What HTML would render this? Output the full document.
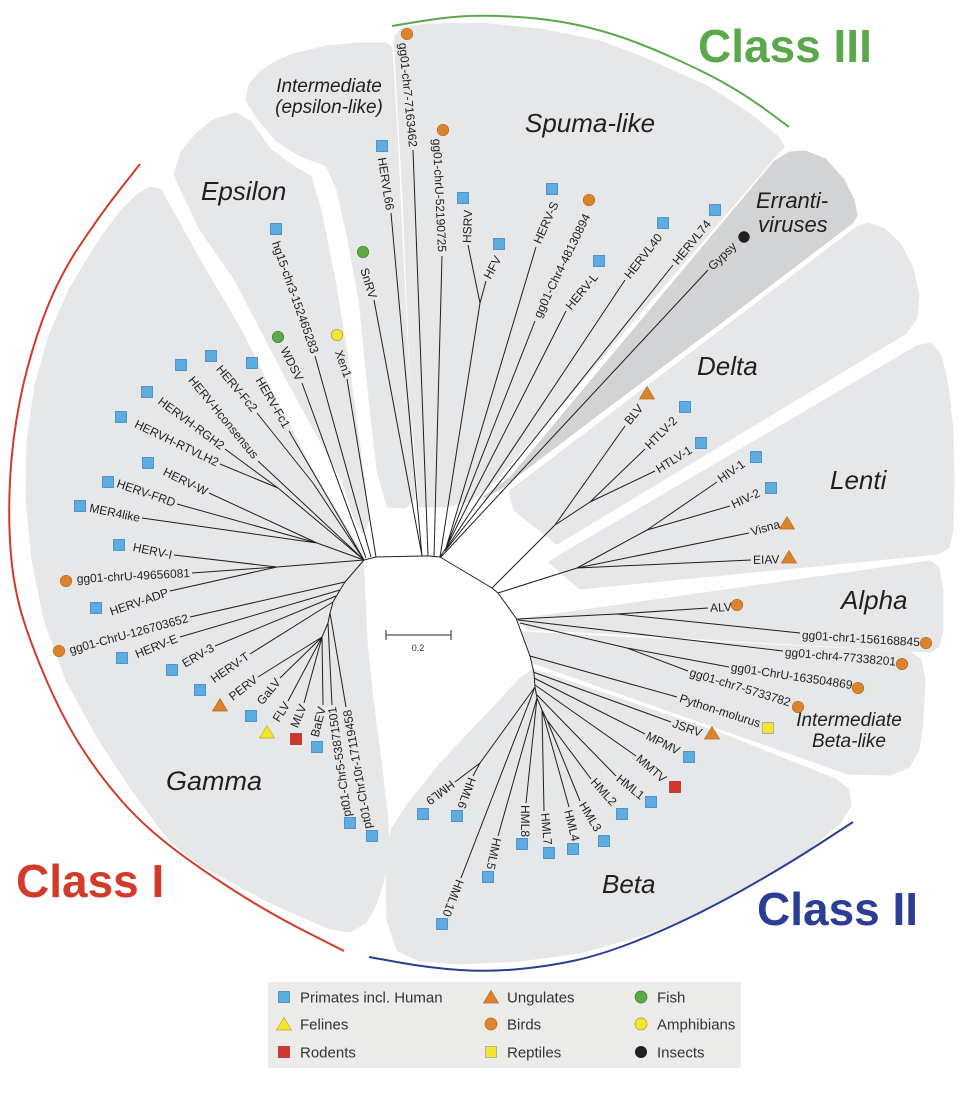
<!DOCTYPE html>
<html>
<head>
<meta charset="utf-8">
<style>
html,body{margin:0;padding:0;background:#fff;}
svg{display:block;}
.l{font-family:"Liberation Sans",sans-serif;font-size:12px;fill:#231f20;}
.c{font-family:"Liberation Sans",sans-serif;font-style:italic;fill:#231f20;}
.k{font-family:"Liberation Sans",sans-serif;font-weight:bold;font-size:46px;}
.g{font-family:"Liberation Sans",sans-serif;font-size:15px;fill:#333;}
.bs{fill:#5dade2;stroke:#3f86bf;stroke-width:0.8;}
.oc{fill:#dc842c;stroke:#b56a1e;stroke-width:0.7;}
.ot{fill:#dc842c;stroke:#b56a1e;stroke-width:0.7;}
.gc{fill:#5fa846;stroke:#3f7f2e;stroke-width:0.7;}
.yc{fill:#f3e531;stroke:#a89c1a;stroke-width:0.7;}
.yt{fill:#f5e62c;stroke:#b8a920;stroke-width:0.7;}
.rs{fill:#d2352b;stroke:#a3261e;stroke-width:0.7;}
.ys{fill:#f3e531;stroke:#999;stroke-width:0.7;}
.kc{fill:#231f20;}
</style>
</head>
<body>
<svg width="960" height="1105" viewBox="0 0 960 1105" xmlns="http://www.w3.org/2000/svg">
<!-- clade backgrounds -->
<g fill="#e6e7e8" stroke="#e6e7e8" stroke-width="3" stroke-linejoin="round">
<path d="M150,188 L160,190 L200,262 L240,330 L275,400 L317,480 L350,535 L362,555 L363,575 L366,640 L372,700 L380,760 L387,820 L388,845 L383,880 L375,905 L365,922 L350,931 L330,928 L300,915 L267,900 L230,880 L200,864 L170,840 L133,790 L100,740 L67,680 L45,620 L33,560 L27,500 L28,440 L36,385 L50,335 L70,290 L95,248 L120,213 L138,195 Z"/>
<path d="M175,175 L182,152 L198,133 L215,120 L235,114 L250,122 L270,150 L290,165 L310,177 L320,210 L335,285 L350,380 L362,470 L368,520 L363,532 L356,520 L343,480 L315,430 L288,380 L236,280 L200,228 Z"/>
<path d="M247,100 L250,85 L260,73 L275,63 L293,55 L327,47 L360,44 L386,44 L391,48 L397,150 L404,300 L414,498 L405,507 L388,506 L378,470 L370,400 L360,300 L348,235 L338,190 L327,165 L300,155 L277,140 L258,118 Z"/>
<path d="M395,38 L402,29 L420,26 L440,25 L480,24 L540,30 L600,42 L640,57 L707,87 L750,115 L778,138 L783,146 L700,243 L633,320 L580,382 L530,440 L495,480 L470,500 L445,506 L420,506 L412,400 L404,200 Z"/>
<path d="M510,492 L728,326 L857,228 L868,224 L885,230 L900,245 L912,268 L918,295 L916,318 L905,333 L557,543 L515,510 Z"/>
<path d="M550,562 L917,347 L930,344 L940,355 L947,385 L952,430 L953,480 L952,530 L948,547 L938,553 L580,588 Z"/>
<path d="M520,620 L930,562 L938,568 L942,590 L942,630 L938,646 L930,651 L528,628 Z"/>
<path d="M523,633 L910,653 L920,660 L924,680 L922,720 L918,750 L908,767 L890,774 L848,773 L533,662 Z"/>
<path d="M533,670 L720,734 L835,780 L848,790 L850,805 L840,822 L800,855 L750,885 L700,912 L640,935 L580,952 L520,960 L460,963 L420,960 L398,950 L388,920 L387,870 L392,830 L408,805 L440,765 L490,712 L520,680 Z"/>
</g>
<path d="M775,162 L790,153 L805,152 L825,160 L843,180 L853,200 L856,215 L852,222 L723,320 L600,412 L500,488 L485,497 L511,478 L576,400 L643,320 Z" fill="#d1d3d4" stroke="#d1d3d4" stroke-width="3" stroke-linejoin="round"/>

<!-- class arcs -->
<path d="M140 164 L120 189.5 Q100 215 78.5 247.5 Q57 280 42.5 320 Q28 360 20 400 Q12 440 10 480 Q8 520 11 555 Q14 590 23.5 620 Q33 650 49 686 Q65 722 82.5 749 Q100 776 120 799 Q140 822 165 842 Q190 862 228.5 887 Q267 912 305.5 931.5 L344 951" fill="none" stroke="#d23a2a" stroke-width="2"/>
<path d="M369 957 L399.5 962.5 Q430 968 460 970 Q490 972 520 969 Q550 966 575 960.5 Q600 955 630 943.5 Q660 932 690 917.5 Q720 903 755 883 Q790 863 821.5 842.5 L853 822" fill="none" stroke="#2c3d95" stroke-width="2"/>
<path d="M392 26 L416 22 Q440 18 460 16.5 Q480 15 510 16.5 Q540 18 565 22.5 Q590 27 615 35 Q640 43 673.5 58 Q707 73 728.5 85.5 Q750 98 769.5 112.5 L789 127" fill="none" stroke="#5ba84a" stroke-width="2"/>

<!-- tree -->
<path fill="none" stroke="#231f20" stroke-width="1" stroke-linejoin="round" d="
M364 560 L376 557 L423 556 L429 556 L440 557 L492 588 L498 593 L516 618 L530 656 L534 673 L535 687 L537 698 L542 710 L547 720
M364 560 L345 582 L340 590 L333 602 L330 613 L328 623 L322 637
M289 431 L364 560
M257 413 L313 483 L364 560
M258 461 L364 560
M225 449 L278 488 L364 560
M220 464 L278 488
M209 493 L317 543 L364 560
M177 504 L317 543
M142 518 L317 543
M174 555 L277 567 L364 560
M192 573 L277 567
M170 591 L277 567
M190 617 L345 582
M180 637 L340 590
M215 646 L336 596
M250 654 L333 602
M258 677 L322 637
M280 678 L322 637
M288 701 L322 637
M304 703 L322 637
M323 705 L322 637
M332 705 L328 623
M346 707 L330 613
M302 383 L366 558
M315 356 L371 557
M347 379 L376 557
M374 300 L422 556
M391 213 L422 556
M413 150 L428 556
M442 256 L434 556
M468 245 L480 303 L440 557
M486 281 L480 303
M536 247 L446 548 L440 557
M535 321 L446 548
M566 311 L446 548
M625 280 L446 549
M673 265 L445 551
M708 270 L441 557
M492 588 L555 525 L625 426
M555 525 L590 502 L645 449
M590 502 L655 471
M498 593 L577 568 L647 530 L717 482
M647 530 L730 506
M577 568 L749 533
M577 568 L751 560
M517 619 L617 614 L708 608
M617 614 L800 633
M518 620 L783 651
M520 623 L627 648 L729 667
M627 648 L688 671
M530 656 L677 697
M533 672 L671 722
M534 678 L645 734
M535 685 L636 756
M537 695 L616 776
M547 720 L591 779
M547 720 L580 801
M542 710 L569 807
M542 710 L544 811
M537 698 L526 803
M537 698 L498 836
M535 687 L461 878
M535 687 L480 763 L473 776
M480 763 L455 782
"/>

<!-- scale bar -->
<path d="M386 635 L451 635 M386 630 L386 640 M451 630 L451 640" stroke="#555" stroke-width="1.3" fill="none"/>
<text x="418" y="651" text-anchor="middle" style="font-family:'Liberation Sans',sans-serif;font-size:9px;fill:#333">0.2</text>

<!-- left-half labels (anchor end) -->
<g class="l" text-anchor="end">
<text y="4" transform="translate(287 427) rotate(60)">HERV-Fc1</text>
<text y="4" transform="translate(255 410) rotate(50)">HERV-Fc2</text>
<text y="4" transform="translate(256 457) rotate(50.5)">HERV-Hconsensus</text>
<text y="4" transform="translate(223 447) rotate(36.6)">HERVH-RGH2</text>
<text y="4" transform="translate(218 463) rotate(25.7)">HERVH-RTVLH2</text>
<text y="4" transform="translate(207 492) rotate(26)">HERV-W</text>
<text y="4" transform="translate(175 503) rotate(19)">HERV-FRD</text>
<text y="4" transform="translate(140 518) rotate(11.5)">MER4like</text>
<text y="4" transform="translate(172 555) rotate(11.6)">HERV-I</text>
<text y="4" transform="translate(190 573) rotate(-3)">gg01-chrU-49656081</text>
<text y="4" transform="translate(168 592) rotate(-19)">HERV-ADP</text>
<text y="4" transform="translate(188 618) rotate(-15.2)">gg01-ChrU-126703652</text>
<text y="4" transform="translate(177 638) rotate(-22)">HERV-E</text>
<text y="4" transform="translate(213 647) rotate(-30)">ERV-3</text>
<text y="4" transform="translate(248 655) rotate(-35)">HERV-T</text>
<text y="4" transform="translate(256 678) rotate(-38)">PERV</text>
<text y="4" transform="translate(278 680) rotate(-51)">GaLV</text>
<text y="4" transform="translate(287 703) rotate(-57)">FLV</text>
<text y="4" transform="translate(303 705) rotate(-68)">MLV</text>
<text y="4" transform="translate(322 707) rotate(-76)">BaEV</text>
<text y="4" transform="translate(332 707) rotate(-98)">pt01-Chr5-53871501</text>
<text y="4" transform="translate(347 710) rotate(-100)">pt01-Chr10r-17119458</text>
<text y="4" transform="translate(300 380) rotate(63)">WDSV</text>
<text y="4" transform="translate(315 353) rotate(70.5)">hg15-chr3-152465283</text>
<text y="4" transform="translate(348 377) rotate(70)">Xen1</text>
<text y="4" transform="translate(373 298) rotate(73)">SnRV</text>
<text y="4" transform="translate(390 210) rotate(81)">HERVL66</text>
<text y="4" transform="translate(413 147) rotate(84.5)">gg01-chr7-7163462</text>
<text y="4" transform="translate(442 252) rotate(87.4)">gg01-chrU-52190725</text>
</g>

<!-- right-half labels (anchor start) -->
<g class="l">
<text y="4" transform="translate(467 243) rotate(-88)">HSRV</text>
<text y="4" transform="translate(487 278) rotate(-62)">HFV</text>
<text y="4" transform="translate(537 243) rotate(-66)">HERV-S</text>
<text y="4" transform="translate(537 317) rotate(-64)">gg01-Chr4-48130894</text>
<text y="4" transform="translate(568 308) rotate(-50)">HERV-L</text>
<text y="4" transform="translate(627 277) rotate(-52)">HERVL40</text>
<text y="4" transform="translate(675 263) rotate(-51)">HERVL74</text>
<text y="4" transform="translate(710 268) rotate(-44)">Gypsy</text>
<text y="4" transform="translate(627 423) rotate(-51)">BLV</text>
<text y="4" transform="translate(647 447) rotate(-45)">HTLV-2</text>
<text y="4" transform="translate(657 470) rotate(-32)">HTLV-1</text>
<text y="4" transform="translate(719 480) rotate(-35)">HIV-1</text>
<text y="4" transform="translate(732 505) rotate(-25)">HIV-2</text>
<text y="4" transform="translate(751 532) rotate(-16)">Visna</text>
<text y="4" transform="translate(753 560) rotate(-1.5)">EIAV</text>
<text y="4" transform="translate(710 608) rotate(-3)">ALV</text>
<text y="4" transform="translate(802 635) rotate(3.5)">gg01-chr1-156168845</text>
<text y="4" transform="translate(785 652) rotate(5)">gg01-chr4-77338201</text>
<text y="4" transform="translate(731 667) rotate(8.5)">gg01-ChrU-163504869</text>
<text y="4" transform="translate(690 672) rotate(17)">gg01-chr7-5733782</text>
<text y="4" transform="translate(680 698) rotate(17.8)">Python-molurus</text>
<text y="4" transform="translate(673 723) rotate(19.6)">JSRV</text>
<text y="4" transform="translate(647 735) rotate(27)">MPMV</text>
<text y="4" transform="translate(638 757) rotate(41)">MMTV</text>
<text y="4" transform="translate(618 777) rotate(39)">HML1</text>
<text y="4" transform="translate(593 780) rotate(48)">HML2</text>
<text y="4" transform="translate(582 803) rotate(59)">HML3</text>
<text y="4" transform="translate(568 810) rotate(76)">HML4</text>
<text y="4" transform="translate(545 813) rotate(85)">HML7</text>
<text y="4" transform="translate(525 805) rotate(90)">HML8</text>
<text y="4" transform="translate(497 838) rotate(102)">HML5</text>
<text y="4" transform="translate(460 880) rotate(111)">HML10</text>
<text y="4" transform="translate(472 778) rotate(110)">HML6</text>
<text y="4" transform="translate(453 783) rotate(143)">HML9</text>
</g>

<!-- markers -->
<g class="bs">
<rect x="246.5" y="357.5" width="11" height="11"/>
<rect x="205.5" y="350.5" width="11" height="11"/>
<rect x="175.5" y="359.5" width="11" height="11"/>
<rect x="141.5" y="386.5" width="11" height="11"/>
<rect x="115.5" y="411.5" width="11" height="11"/>
<rect x="142.5" y="457.5" width="11" height="11"/>
<rect x="102.5" y="476.5" width="11" height="11"/>
<rect x="74.5" y="500.5" width="11" height="11"/>
<rect x="113.5" y="539.5" width="11" height="11"/>
<rect x="90.5" y="602.5" width="11" height="11"/>
<rect x="116.5" y="652.5" width="11" height="11"/>
<rect x="166.5" y="664.5" width="11" height="11"/>
<rect x="194.5" y="684.5" width="11" height="11"/>
<rect x="245.5" y="710.5" width="11" height="11"/>
<rect x="311.5" y="741.5" width="11" height="11"/>
<rect x="344.5" y="817.5" width="11" height="11"/>
<rect x="366.5" y="830.5" width="11" height="11"/>
<rect x="270.5" y="223.5" width="11" height="11"/>
<rect x="376.5" y="140.5" width="11" height="11"/>
<rect x="457.5" y="192.5" width="11" height="11"/>
<rect x="493.5" y="238.5" width="11" height="11"/>
<rect x="546.5" y="183.5" width="11" height="11"/>
<rect x="593.5" y="255.5" width="11" height="11"/>
<rect x="657.5" y="217.5" width="11" height="11"/>
<rect x="709.5" y="204.5" width="11" height="11"/>
<rect x="679.5" y="401.5" width="11" height="11"/>
<rect x="695.5" y="437.5" width="11" height="11"/>
<rect x="750.5" y="451.5" width="11" height="11"/>
<rect x="765.5" y="482.5" width="11" height="11"/>
<rect x="683.5" y="751.5" width="11" height="11"/>
<rect x="645.5" y="796.5" width="11" height="11"/>
<rect x="616.5" y="808.5" width="11" height="11"/>
<rect x="598.5" y="835.5" width="11" height="11"/>
<rect x="567.5" y="843.5" width="11" height="11"/>
<rect x="543.5" y="847.5" width="11" height="11"/>
<rect x="516.5" y="838.5" width="11" height="11"/>
<rect x="482.5" y="871.5" width="11" height="11"/>
<rect x="436.5" y="918.5" width="11" height="11"/>
<rect x="451.5" y="810.5" width="11" height="11"/>
<rect x="417.5" y="808.5" width="11" height="11"/>
</g>
<g class="oc">
<circle cx="66" cy="581" r="5.7"/>
<circle cx="59" cy="651" r="5.7"/>
<circle cx="407" cy="34" r="5.7"/>
<circle cx="443" cy="130" r="5.7"/>
<circle cx="589" cy="200" r="5.7"/>
<circle cx="737" cy="605" r="5.7"/>
<circle cx="926" cy="643" r="5.7"/>
<circle cx="902" cy="664" r="5.7"/>
<circle cx="858" cy="688" r="5.7"/>
<circle cx="798" cy="707" r="5.7"/>
</g>
<g class="ot">
<polygon points="220,698.5 227.5,711 212.5,711"/>
<polygon points="647,386.5 654.5,399 639.5,399"/>
<polygon points="787,516.5 794.5,529 779.5,529"/>
<polygon points="789,550.5 796.5,563 781.5,563"/>
<polygon points="712,726.5 719.5,739 704.5,739"/>
</g>
<polygon class="yt" points="267,725.5 274.5,738 259.5,738"/>
<rect class="rs" x="290.5" y="733.5" width="11" height="11"/>
<rect class="rs" x="669.5" y="781.5" width="11" height="11"/>
<rect class="ys" x="762.5" y="722.5" width="11" height="11"/>
<circle class="gc" cx="278" cy="337" r="5.7"/>
<circle class="gc" cx="363" cy="252" r="5.7"/>
<circle class="yc" cx="337" cy="335" r="5.7"/>
<circle class="kc" cx="744" cy="237" r="5.7"/>

<!-- clade labels -->
<text class="c" x="329" y="92" text-anchor="middle" font-size="19">Intermediate</text>
<text class="c" x="329" y="113" text-anchor="middle" font-size="19">(epsilon-like)</text>
<text class="c" x="201" y="200" font-size="26">Epsilon</text>
<text class="c" x="525" y="132" font-size="26">Spuma-like</text>
<text class="c" x="756" y="208" font-size="22">Erranti-</text>
<text class="c" x="758" y="232" font-size="22">viruses</text>
<text class="c" x="697" y="375" font-size="26">Delta</text>
<text class="c" x="830" y="489" font-size="26">Lenti</text>
<text class="c" x="841" y="609" font-size="26">Alpha</text>
<text class="c" x="849" y="726" text-anchor="middle" font-size="19">Intermediate</text>
<text class="c" x="849" y="747" text-anchor="middle" font-size="19">Beta-like</text>
<text class="c" x="166" y="790" font-size="27">Gamma</text>
<text class="c" x="602" y="893" font-size="26">Beta</text>

<!-- class labels -->
<text class="k" x="698" y="62" fill="#5ba84a">Class III</text>
<text class="k" x="16" y="897" fill="#d23a2a">Class I</text>
<text class="k" x="757" y="925" fill="#2c3d95">Class II</text>

<!-- legend -->
<rect x="268" y="982" width="473" height="86" fill="#ebebea"/>
<rect class="bs" x="278.5" y="991.5" width="11" height="11"/>
<polygon class="yt" points="284,1017.5 291.5,1030 276.5,1030"/>
<rect class="rs" x="278.5" y="1046.5" width="11" height="11"/>
<polygon class="ot" points="491,990.5 498.5,1003 483.5,1003"/>
<circle class="oc" cx="491" cy="1024" r="6"/>
<rect class="ys" x="485.5" y="1046.5" width="11" height="11"/>
<circle class="gc" cx="641" cy="997" r="6"/>
<circle class="yc" cx="641" cy="1024" r="6"/>
<circle class="kc" cx="641" cy="1052" r="6"/>
<text class="g" x="300" y="1002.5">Primates incl. Human</text>
<text class="g" x="300" y="1029.5">Felines</text>
<text class="g" x="300" y="1057.5">Rodents</text>
<text class="g" x="507" y="1002.5">Ungulates</text>
<text class="g" x="507" y="1029.5">Birds</text>
<text class="g" x="507" y="1057.5">Reptiles</text>
<text class="g" x="657" y="1002.5">Fish</text>
<text class="g" x="657" y="1029.5">Amphibians</text>
<text class="g" x="657" y="1057.5">Insects</text>
</svg>
</body>
</html>
